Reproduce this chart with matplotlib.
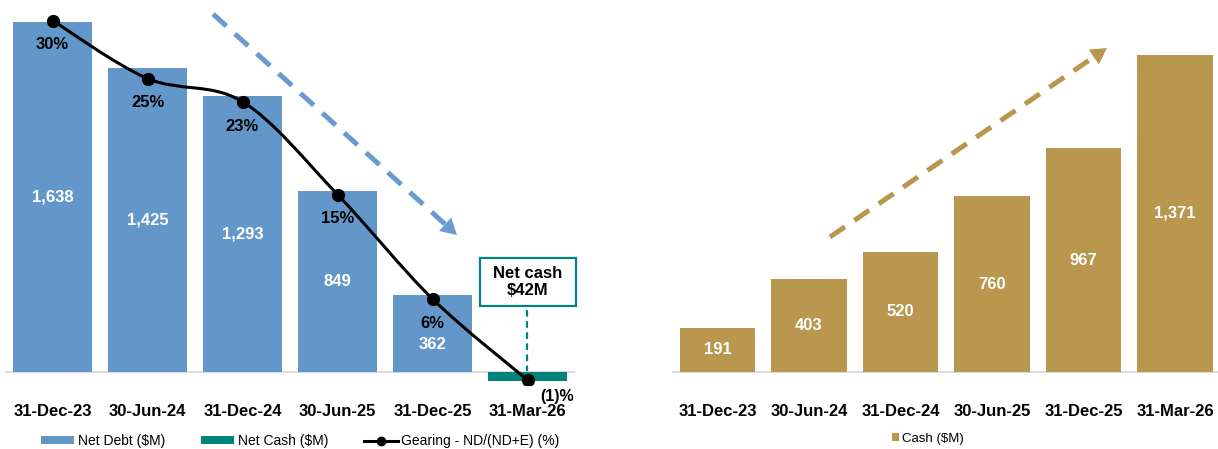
import math

import matplotlib
matplotlib.use("Agg")
import matplotlib.pyplot as plt
from matplotlib.lines import Line2D
from matplotlib.patches import Patch, PathPatch, Polygon, Rectangle
from matplotlib.path import Path


# --- data ---
periods = ["31-Dec-23", "30-Jun-24", "31-Dec-24", "30-Jun-25", "31-Dec-25", "31-Mar-26"]
net_debt = [1638, 1425, 1293, 849, 362, 0]
net_cash = [0, 0, 0, 0, 0, 42]
gearing = [30, 25, 23, 15, 6, -1]
gearing_labels = ["30%", "25%", "23%", "15%", "6%", "(1)%"]
cash = [191, 403, 520, 760, 967, 1371]

# --- style ---
W, H = 1218, 449
COL_BLUE = "#6497C9"
COL_BLUE_ARROW = "#6A9BD0"
COL_TEAL = "#00827D"
COL_GOLD = "#B9974F"
COL_BASE = "#D9D9D9"
COL_TEXT = "#000000"

plt.rcParams["font.family"] = ["Liberation Sans", "DejaVu Sans"]


def fx(x):
    return x / W


def fy(y):
    return 1 - y / H


def smooth_path(xs, ys):
    # Catmull-Rom style bezier, like Excel's "smoothed line"
    verts = [(xs[0], ys[0])]
    codes = [Path.MOVETO]
    n = len(xs)
    for i in range(n - 1):
        x0, y0 = (xs[i - 1], ys[i - 1]) if i > 0 else (xs[i], ys[i])
        x3, y3 = (xs[i + 2], ys[i + 2]) if i + 2 < n else (xs[i + 1], ys[i + 1])
        c1 = (xs[i] + (xs[i + 1] - x0) / 6, ys[i] + (ys[i + 1] - y0) / 6)
        c2 = (xs[i + 1] - (x3 - xs[i]) / 6, ys[i + 1] - (y3 - ys[i]) / 6)
        verts += [c1, c2, (xs[i + 1], ys[i + 1])]
        codes += [Path.CURVE4] * 3
    return Path(verts, codes)


def dashed_arrow(fig, p0, p1, color, head_len=16, head_half=9):
    dx, dy = p1[0] - p0[0], p1[1] - p0[1]
    L = math.hypot(dx, dy)
    ux, uy = dx / L, dy / L
    bx, by = p1[0] - ux * head_len, p1[1] - uy * head_len
    fig.add_artist(Line2D([fx(p0[0]), fx(bx)], [fy(p0[1]), fy(by)], transform=fig.transFigure,
                          color=color, lw=3.6, dashes=(3.6, 2.3), dash_capstyle="butt"))
    px, py = -uy, ux
    tri = [(fx(p1[0]), fy(p1[1])),
           (fx(bx + px * head_half), fy(by + py * head_half)),
           (fx(bx - px * head_half), fy(by - py * head_half))]
    fig.add_artist(Polygon(tri, closed=True, transform=fig.transFigure, facecolor=color, edgecolor="none"))


def _style_axis(ax):
    for s in ax.spines.values():
        s.set_visible(False)
    ax.set_yticks([])
    ax.axhline(0, color=COL_BASE, lw=1.3, zorder=1)
    ax.tick_params(axis="x", length=0, pad=14, labelsize=12, labelcolor=COL_TEXT)
    ax.set_xticks(range(len(periods)))
    ax.set_xticklabels(periods, fontweight="bold")


fig = plt.figure(figsize=(W / 100, H / 100), dpi=100, facecolor="white")

# --- left panel: net debt / net cash / gearing ---
ax_top, ax_bot = 5, 385
axl = fig.add_axes([fx(5), fy(ax_bot), 570 / W, (ax_bot - ax_top) / H])
px_per_unit_l = 350 / 1638.0
axl.set_xlim(-0.5, 5.5)
axl.set_ylim(-(ax_bot - 372) / px_per_unit_l, (372 - ax_top) / px_per_unit_l)
_style_axis(axl)
xs = list(range(len(periods)))
axl.bar(xs, net_debt, width=0.83, color=COL_BLUE, zorder=2)
axl.bar(xs, [-v for v in net_cash], width=0.83, color=COL_TEAL, zorder=2)
for i, v in enumerate(net_debt):
    if v <= 0:
        continue
    off = -8 if i == 4 else 0
    axl.annotate(f"{v:,}", (i, v / 2), xytext=(0, off), textcoords="offset points",
                 ha="center", va="center", color="white", fontsize=12, fontweight="bold", zorder=5)

axg = axl.twinx()
px_per_pct = 11.6
axg.set_ylim(-(ax_bot - 368.5) / px_per_pct, (368.5 - ax_top) / px_per_pct)
axg.set_axis_off()
axg.add_patch(PathPatch(smooth_path(xs, gearing), facecolor="none", edgecolor="black", lw=2.2, zorder=3))
axg.plot(xs, gearing, linestyle="none", marker="o", markersize=8.5, color="black", zorder=4)
for i, (g, lbl) in enumerate(zip(gearing, gearing_labels)):
    if g < 0:
        off, fs = (21, -11.5), 11.5
    else:
        off, fs = (0, -17.5), 12
    axg.annotate(lbl, (i, g), xytext=off, textcoords="offset points",
                 ha="center", va="center", fontsize=fs, fontweight="bold", color=COL_TEXT)

# net cash call-out
fig.add_artist(Rectangle((fx(480), fy(306)), 96 / W, 48 / H, transform=fig.transFigure,
                         facecolor="white", edgecolor=COL_TEAL, lw=1.6))
fig.text(fx(528), fy(282), "Net cash\n$42M", ha="center", va="center", fontsize=12,
         fontweight="bold", color=COL_TEXT, linespacing=1.15)
fig.add_artist(Line2D([fx(527), fx(527)], [fy(310), fy(371)], transform=fig.transFigure,
                      color=COL_TEAL, lw=1.6, dashes=(3, 2)))

dashed_arrow(fig, (213, 14), (457, 235), COL_BLUE_ARROW)

handles = [Patch(facecolor=COL_BLUE), Patch(facecolor=COL_TEAL),
           Line2D([], [], color="black", lw=2.2, marker="o", markersize=6)]
fig.legend(handles, ["Net Debt ($M)", "Net Cash ($M)", "Gearing - ND/(ND+E) (%)"],
           loc="center", bbox_to_anchor=(fx(300), fy(441)), ncol=3, frameon=False,
           fontsize=10, handlelength=2.4, handleheight=0.5, handletextpad=0.25, columnspacing=2.6)

# --- right panel: cash ---
axr = fig.add_axes([fx(671.75), fy(ax_bot), 546.25 / W, (ax_bot - ax_top) / H])
px_per_unit_r = 317 / 1371.0
axr.set_xlim(-0.5, -0.5 + 546.25 / 91.5)
axr.set_ylim(-(ax_bot - 372) / px_per_unit_r, (372 - ax_top) / px_per_unit_r)
_style_axis(axr)
axr.bar(xs, cash, width=0.83, color=COL_GOLD, zorder=2)
for i, v in enumerate(cash):
    axr.text(i, v / 2, f"{v:,}", ha="center", va="center", color="white", fontsize=12, fontweight="bold")

dashed_arrow(fig, (830, 237), (1107, 48), COL_GOLD)

fig.legend([Patch(facecolor=COL_GOLD)], ["Cash ($M)"], loc="center", bbox_to_anchor=(fx(928), fy(439)),
           frameon=False, fontsize=9.5, handlelength=0.55, handleheight=0.55, handletextpad=0.2)

fig.savefig("out.png", dpi=100, facecolor="white")
